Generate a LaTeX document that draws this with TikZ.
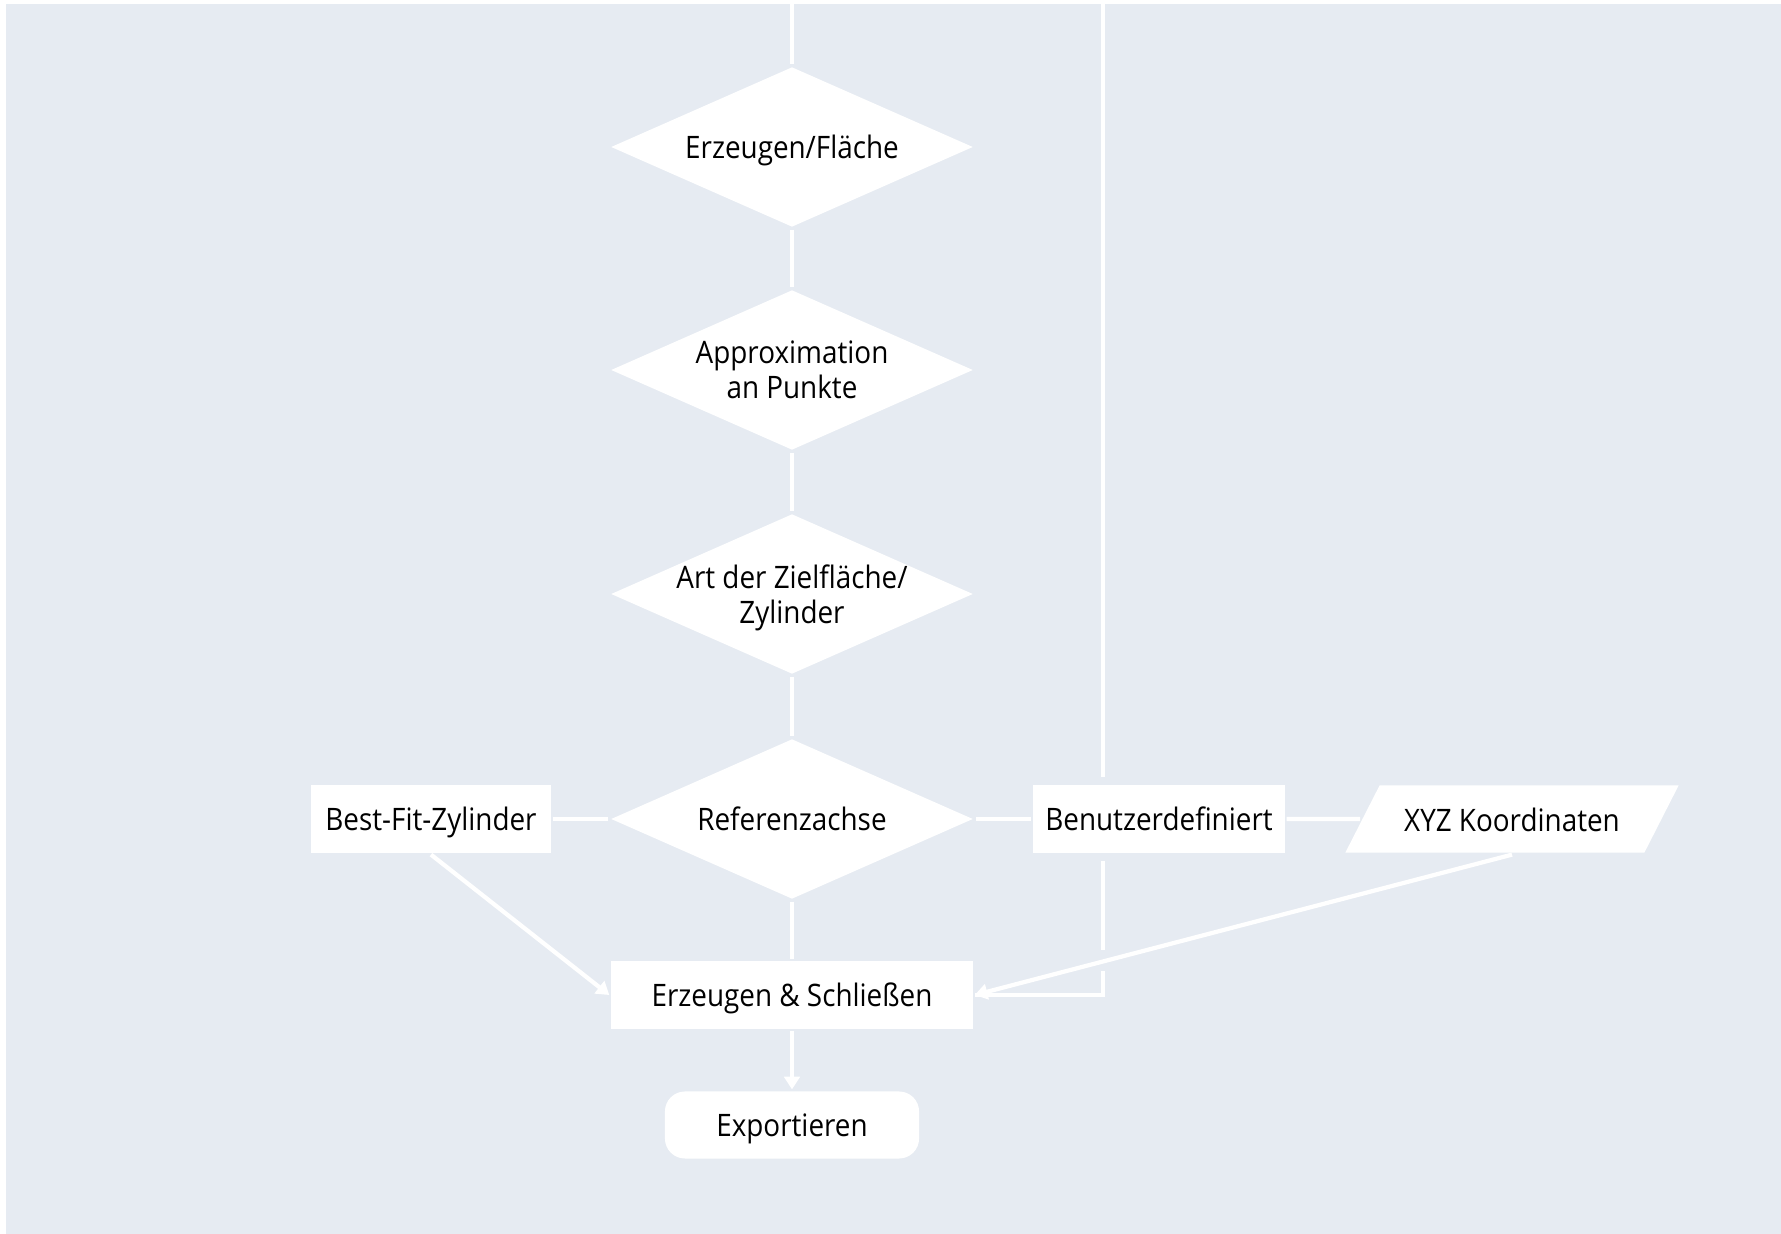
\documentclass[tikz,border=0pt]{standalone}
\usepackage{fontspec}
\setmainfont{Open Sans}[FakeStretch=0.9]
\usetikzlibrary{arrows.meta, shapes.geometric}
\definecolor{bgblue}{RGB}{230,235,242}

\begin{document}
\begin{tikzpicture}[x=0.01cm, y=-0.01cm, >={Triangle[width=4.4pt, length=3.6pt]},
  line width=1.2pt, font=\fontsize{8.8}{10}\selectfont,
  every node/.style={text depth=0pt},
  flow/.style={draw=white, line width=1.2pt},
  decision/.style={diamond, aspect=2.25, fill=white, align=center,
    minimum width=3.63cm, minimum height=1.61cm, inner xsep=-0.8cm, inner ysep=-0.35cm},
  stepbox/.style={rectangle, fill=white, minimum height=0.67cm, inner sep=0pt},
  inputbox/.style={trapezium, trapezium left angle=63, trapezium right angle=117,
    trapezium stretches body=true, fill=white, minimum width=3.33cm,
    text height=0.25cm, inner xsep=0pt, inner ysep=0.21cm}]
  \useasboundingbox (0,0) rectangle (1781,1234);
  % Background
  \fill[bgblue] (6,4) rectangle (1781,1234);
  % Decisions
  \node[decision] (flaeche) at (792,147) {Erzeugen/Fläche};
  \node[decision] (approx) at (792,370) {Approximation\\an Punkte};
  \node[decision] (ziel) at (792,594) {Art der Zielfläche/\\Zylinder};
  \node[decision] (achse) at (792,819) {Referenzachse};
  % Axis variants
  \node[stepbox, minimum width=2.40cm] (bestfit) at (431,819) {Best-Fit-Zylinder};
  \node[stepbox, minimum width=2.51cm] (benutzer) at (1159,819) {Benutzerdefiniert};
  \node[inputbox] (xyz) at (1512,819) {XYZ Koordinaten};
  % Result
  \node[stepbox, minimum width=3.61cm] (schliessen) at (792,995) {Erzeugen \& Schließen};
  \node[stepbox, rounded corners=0.2cm, minimum width=2.54cm] (export) at (792,1125) {Exportieren};
  % Incoming lines from above
  \coordinate (zulauf) at (792,4);
  \coordinate (zulaufR) at (1103,4);
  % Main chain
  \draw[flow] (zulauf) -- (flaeche.north);
  \draw[flow] (flaeche.south) -- (approx.north);
  \draw[flow] (approx.south) -- (ziel.north);
  \draw[flow] (ziel.south) -- (achse.north);
  \draw[flow] (achse.south) -- (schliessen.north);
  \draw[flow, ->] (schliessen.south) -- (export.north);
  % Branches
  \draw[flow] (achse.west) -- (bestfit.east);
  \draw[flow] (achse.east) -- (benutzer.west);
  \draw[flow] (benutzer.east) -- (xyz.west);
  \draw[flow, ->] (bestfit.south) -- (schliessen.west);
  \draw[flow, shorten >=0.06cm] (zulaufR) -- (zulaufR |- benutzer.north);
  \draw[flow, shorten <=0.06cm] (zulaufR |- benutzer.south) |- (schliessen.east);
  % line hop
  \fill[bgblue] (1096,950) rectangle (1110,971);
  \draw[flow, ->] (xyz.south) -- (schliessen.east);
\end{tikzpicture}
\end{document}
